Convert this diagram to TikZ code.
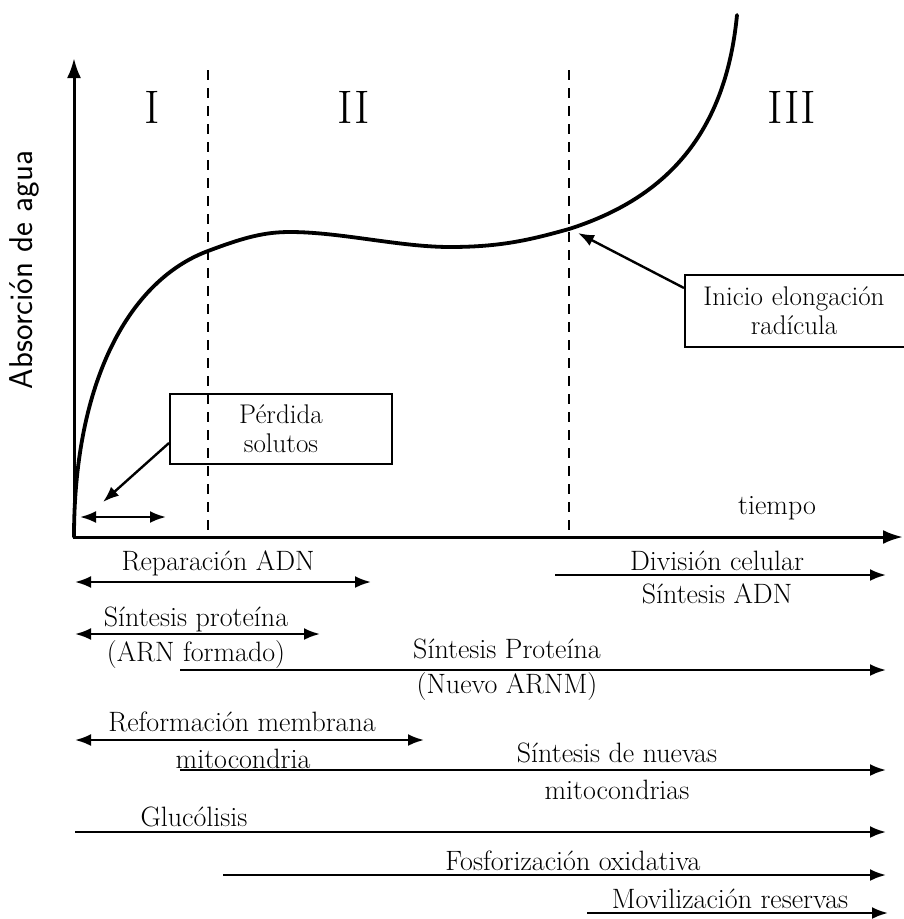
\documentclass[tikz,border=0pt]{standalone}
\usetikzlibrary{arrows.meta}
\begin{document}
\begin{tikzpicture}[x=1pt,y=-1pt,
  lbl/.style={font=\fontsize{28}{32}\selectfont, inner sep=0pt},
  roman/.style={font=\fontsize{47}{50}\selectfont, inner sep=0pt},
  tip/.style={line width=2.4pt, -{Latex[length=16pt,width=12pt]}},
  dtip/.style={line width=2.4pt, {Latex[length=16pt,width=12pt]}-{Latex[length=16pt,width=12pt]}},
  vdash/.style={line width=2.4pt, dash pattern=on 10pt off 8pt},
  boxed/.style={draw, line width=2pt, inner sep=0pt, align=center, font=\fontsize{27}{29}\selectfont},
  curve/.style={line width=3.8pt}]
\useasboundingbox (0,0) rectangle (903,919);

% axes
\coordinate (ytop) at (74,58);
\coordinate (O) at (74,537);
\coordinate (xend) at (903,537);
\draw[line width=3pt, line join=miter, {Latex[length=20pt,width=14pt]}-{Latex[length=20pt,width=14pt]}] (ytop) -- (O) -- (xend);

% dashed phase limits
\coordinate (d1t) at (208,70); \coordinate (d1b) at (208,537);
\coordinate (d2t) at (569,70); \coordinate (d2b) at (569,537);
\draw[vdash] (d1t) -- (d1b);
\draw[vdash] (d2t) -- (d2b);

% phase numerals
\node[roman] (r1) at (152,107) {I};
\node[roman] (r2) at (354,107) {II};
\node[roman] (r3) at (792,107) {III};

% axis labels
\node[rotate=90, inner sep=0pt, font=\sffamily\fontsize{33}{36}\selectfont] (ylab) at (24,270) {Absorción de agua};
\node[lbl] (tiempo) at (777,508) {tiempo};

% curve
\coordinate (c0) at (74,537);
\coordinate (c1) at (208,251);
\coordinate (c2) at (290,232);
\coordinate (c3) at (450,247);
\coordinate (c4) at (569,229);
\coordinate (c5) at (737,15);
\draw[curve, line cap=round] (c0) .. controls (74,380) and (130,280) .. (c1)
  .. controls (245,237) and (265,232) .. (c2)
  .. controls (340,232) and (400,247) .. (c3)
  .. controls (500,247) and (530,240) .. (c4)
  .. controls (660,200) and (725,140) .. (c5);

% Perdida solutos
\node[boxed, minimum width=222pt, minimum height=70pt] (pb) at (281,429) {Pérdida\\solutos};
\coordinate (pbtip) at (103,502);
\draw[tip] ([yshift=-14pt]pb.west) -- (pbtip);
\coordinate (sa) at (80,517); \coordinate (sb) at (166,517);
\draw[dtip] (sa) -- (sb);

% Inicio elongacion
\node[boxed, minimum width=226pt, minimum height=72pt, text width=220pt] (ib) at (798,311) {\hspace*{-8pt}Inicio elongación\\\hspace*{-8pt}radícula};
\coordinate (ibtip) at (578,233);
\draw[tip] ([yshift=23pt]ib.west) -- (ibtip);

% processes
\node[lbl] (t1) at (218,563) {Reparación ADN};
\coordinate (a1) at (75,582); \coordinate (b1) at (371,582);
\draw[dtip] (a1) -- (b1);

\node[lbl] (t2) at (717,561) {División celular};
\node[lbl] (t2b) at (717,594) {Síntesis ADN};
\coordinate (a2) at (555,575); \coordinate (b2) at (886,575);
\draw[tip] (a2) -- (b2);

\node[lbl] (t3) at (196,619) {Síntesis proteína};
\node[lbl] (t3b) at (196,655) {(ARN formado)};
\coordinate (a3) at (75,634); \coordinate (b3) at (320,634);
\draw[dtip] (a3) -- (b3);

\node[lbl] (t4) at (507,649) {Síntesis Proteína};
\node[lbl] (t4b) at (507,687) {(Nuevo ARNM)};
\coordinate (a4) at (180,670); \coordinate (b4) at (886,670);
\draw[tip] (a4) -- (b4);

\node[lbl] (t5) at (242,722) {Reformación membrana};
\node[lbl] (t5b) at (243,759) {mitocondria};
\coordinate (a5) at (75,740); \coordinate (b5) at (424,740);
\draw[dtip] (a5) -- (b5);

\node[lbl] (t6) at (617,753) {Síntesis de nuevas};
\node[lbl] (t6b) at (617,790) {mitocondrias};
\coordinate (a6) at (180,770); \coordinate (b6) at (886,770);
\draw[tip] (a6) -- (b6);

\node[lbl] (t7) at (194,817) {Glucólisis};
\coordinate (a7) at (75,832); \coordinate (b7) at (886,832);
\draw[tip] (a7) -- (b7);

\node[lbl] (t8) at (573,861) {Fosforización oxidativa};
\coordinate (a8) at (223,875); \coordinate (b8) at (886,875);
\draw[tip] (a8) -- (b8);

\node[lbl] (t9) at (730,899) {Movilización reservas};
\coordinate (a9) at (587,913); \coordinate (b9) at (888,913);
\draw[tip] (a9) -- (b9);
\end{tikzpicture}
\end{document}
